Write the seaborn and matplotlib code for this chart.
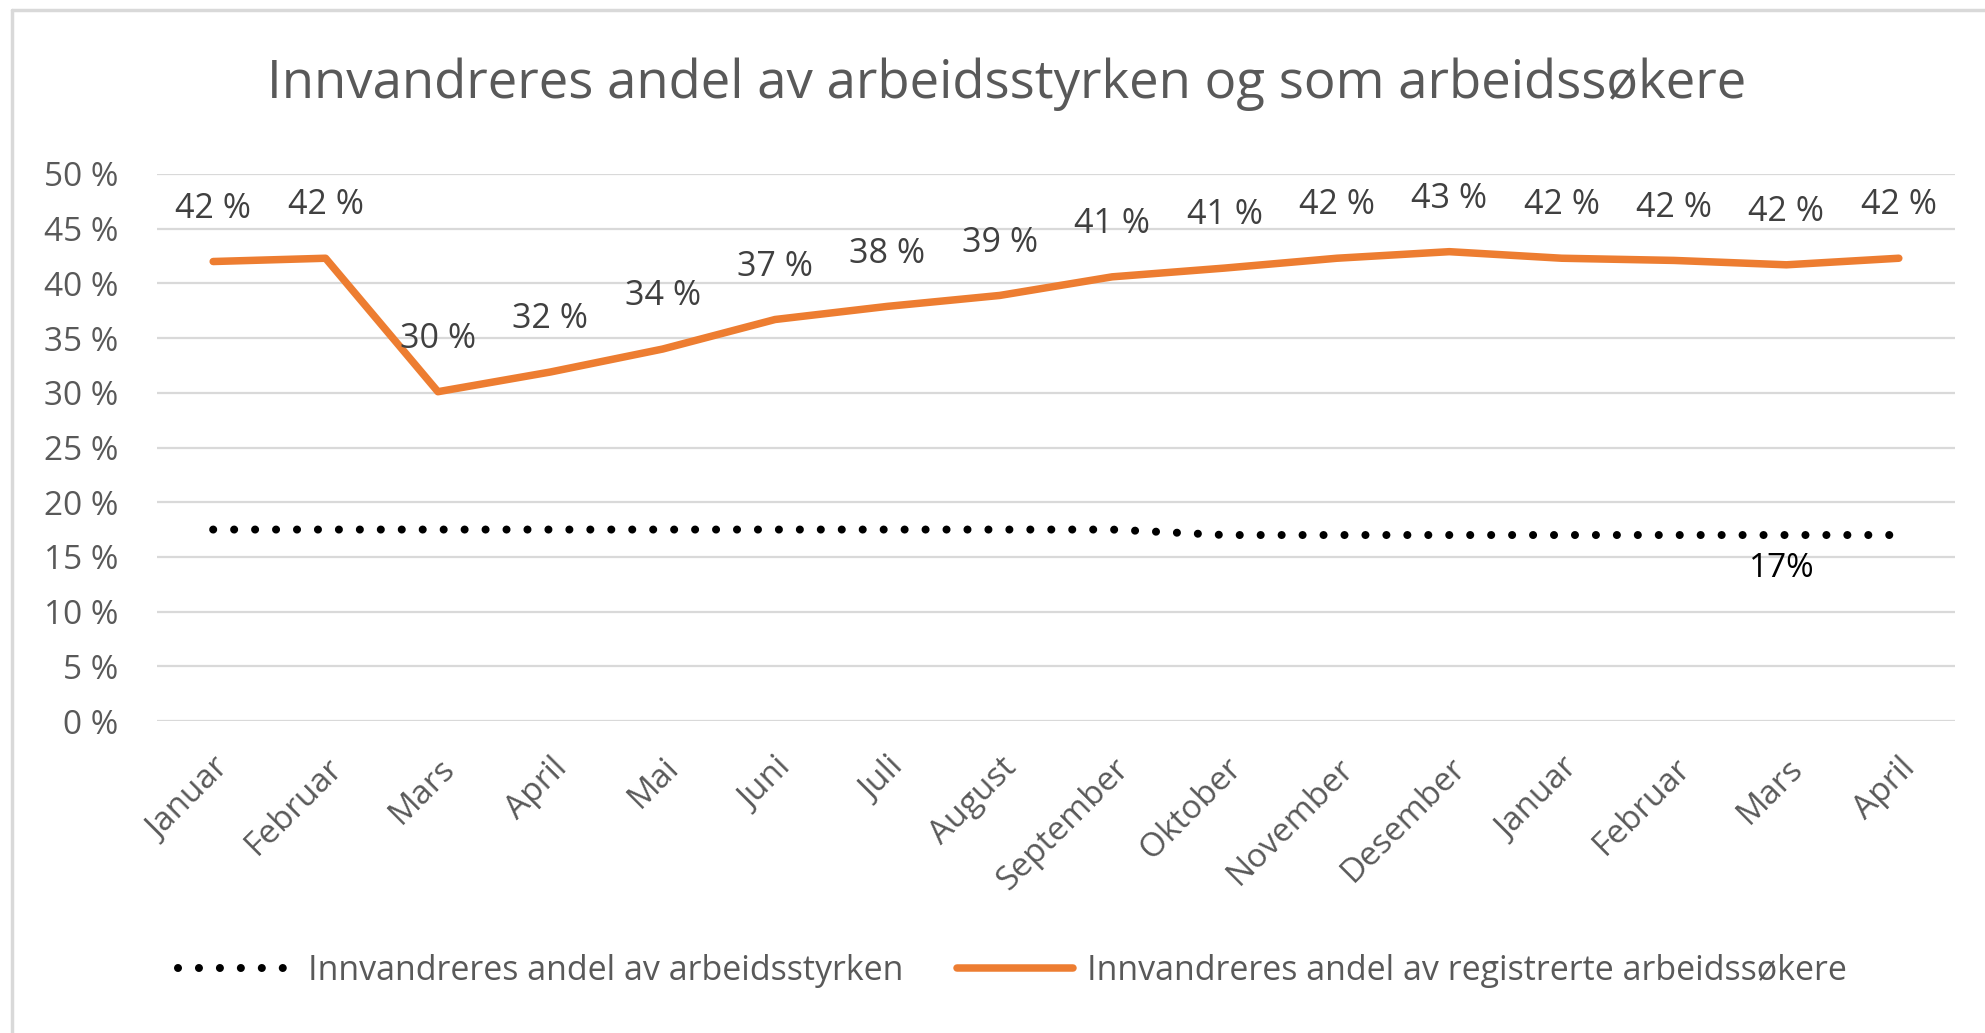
import matplotlib
matplotlib.use("Agg")
import matplotlib.pyplot as plt
import pandas as pd
import seaborn as sns
from matplotlib.lines import Line2D
from matplotlib.ticker import FuncFormatter

months = ["Januar", "Februar", "Mars", "April", "Mai", "Juni", "Juli", "August",
          "September", "Oktober", "November", "Desember", "Januar", "Februar", "Mars", "April"]
soekere = [42.0, 42.3, 30.1, 31.9, 34.0, 36.7, 37.9, 38.9, 40.6, 41.4, 42.3, 42.9,
           42.3, 42.1, 41.7, 42.3]
soekere_labels = ["42 %", "42 %", "30 %", "32 %", "34 %", "37 %", "38 %", "39 %", "41 %",
                  "41 %", "42 %", "43 %", "42 %", "42 %", "42 %", "42 %"]
styrke = [17.5, 17.5, 17.5, 17.5, 17.5, 17.5, 17.5, 17.5, 17.5, 17.0, 17.0, 17.0,
          17.0, 17.0, 17.0, 17.0]

name_styrke = "Innvandreres andel av arbeidsstyrken"
name_soekere = "Innvandreres andel av registrerte arbeidssøkere"
title = "Innvandreres andel av arbeidsstyrken og som arbeidssøkere"

df = pd.DataFrame({"pos": range(len(months)), "month": months,
                   "styrke": styrke, "soekere": soekere})

sns.set_theme(style="white")
plt.rcParams["font.family"] = ["Open Sans", "DejaVu Sans"]

ORANGE = "#ED7D31"
GREY = "#595959"
FS = 24

fig = plt.figure(figsize=(19.85, 10.33), dpi=100)
ax = fig.add_axes([157 / 1985, 1 - 721 / 1033, 1798 / 1985, (721 - 174) / 1033])

# chart area border (top and left visible)
fig.add_artist(Line2D([12 / 1985, 1], [1 - 10 / 1033] * 2, color="#D9D9D9", lw=2.5))
fig.add_artist(Line2D([12 / 1985] * 2, [0, 1 - 10 / 1033], color="#D9D9D9", lw=2.5))

sns.lineplot(data=df, x="pos", y="styrke", ax=ax, color="black", lw=5.8,
             linestyle=(0, (0.001, 2.6)), dash_capstyle="round", label=name_styrke)
sns.lineplot(data=df, x="pos", y="soekere", ax=ax, color=ORANGE, lw=5.4,
             solid_capstyle="round", solid_joinstyle="round", label=name_soekere)

for i, (v, t) in enumerate(zip(soekere, soekere_labels)):
    ax.annotate(t, (i, v), xytext=(0, 38), textcoords="offset points",
                ha="center", va="center", fontsize=FS + 0.5, color="#404040")
ax.annotate("17%", (14, styrke[14]), xytext=(-3, -24), textcoords="offset points",
            ha="center", va="center", fontsize=FS, color="black")

ax.set_xlim(-0.5, len(months) - 0.5)
ax.set_ylim(0, 50)
ax.set_yticks(range(0, 51, 5))
ax.yaxis.set_major_formatter(FuncFormatter(lambda v, p: f"{int(v)} %"))
ax.set_xticks(range(len(months)))
ax.set_xticklabels(months, rotation=45, ha="right", rotation_mode="anchor")
ax.tick_params(axis="y", labelsize=FS, labelcolor=GREY, length=0, pad=28)
ax.tick_params(axis="x", labelsize=FS, labelcolor=GREY, length=0, pad=22)
ax.grid(axis="y", color="#D9D9D9", lw=1.6)
ax.set_axisbelow(True)
for s in ax.spines.values():
    s.set_visible(False)
ax.set_xlabel("")
ax.set_ylabel("")

fig.text(0.507, 1 - 84 / 1033, title, ha="center", va="center", fontsize=38, color=GREY)

ax.get_legend().remove()
handles = [Line2D([], [], color="black", lw=5.8, linestyle=(0, (0.001, 2.6)),
                  dash_capstyle="round"),
           Line2D([], [], color=ORANGE, lw=5.4, solid_capstyle="round")]
fig.legend(handles, [name_styrke, name_soekere], loc="center", ncol=2,
           bbox_to_anchor=(0.51, 1 - 971 / 1033), frameon=False, fontsize=FS + 0.5,
           labelcolor=GREY, handlelength=3.4, handletextpad=0.4, columnspacing=1.6)

fig.savefig("out.png", dpi=100)
